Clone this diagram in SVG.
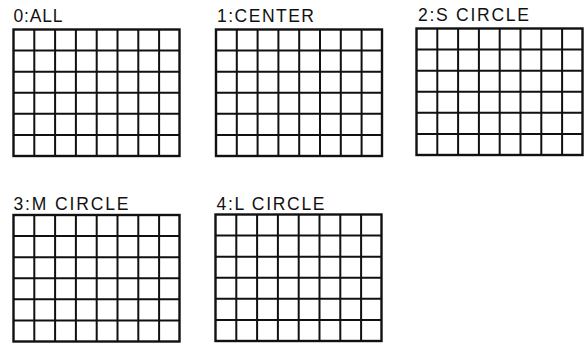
<svg xmlns="http://www.w3.org/2000/svg" xmlns:xlink="http://www.w3.org/1999/xlink" width="585" height="344" viewBox="0 0 585 344">
<style>
.lbl{font-family:"Liberation Sans",Arial,Helvetica,sans-serif;font-size:17.5px;fill:#111;}
.grid{fill:none;stroke:#111;stroke-width:2;}
.frame{fill:#fff;stroke:#111;stroke-width:2.4;}
</style>
<defs>
<g id="g">
<rect class="frame" x="0" y="0" width="166" height="126.5"/>
<path class="grid" d="M20.8 0V126.5M41.6 0V126.5M62.4 0V126.5M83.2 0V126.5M104 0V126.5M124.8 0V126.5M145.6 0V126.5M0 21.1H166M0 42.2H166M0 63.25H166M0 84.3H166M0 105.4H166"/>
</g>
</defs>
<rect width="585" height="344" fill="#fff"/>
<g id="grid0">
<use xlink:href="#g" x="13.5" y="29.5"/>
<text class="lbl" x="13.5" y="21.5" textLength="49" lengthAdjust="spacing">0:ALL</text>
</g>
<g id="grid1">
<use xlink:href="#g" x="216" y="29.5"/>
<text class="lbl" x="217" y="21.5" textLength="97" lengthAdjust="spacing">1:CENTER</text>
</g>
<g id="grid2">
<use xlink:href="#g" x="416.5" y="28.5"/>
<text class="lbl" x="418" y="21" textLength="111" lengthAdjust="spacing">2:S CIRCLE</text>
</g>
<g id="grid3">
<use xlink:href="#g" x="13.5" y="215"/>
<text class="lbl" x="13.5" y="209.5" textLength="115" lengthAdjust="spacing">3:M CIRCLE</text>
</g>
<g id="grid4">
<use xlink:href="#g" x="215.5" y="214.5"/>
<text class="lbl" x="216.5" y="209.5" textLength="108" lengthAdjust="spacing">4:L CIRCLE</text>
</g>
<g id="connectors"/>
</svg>
